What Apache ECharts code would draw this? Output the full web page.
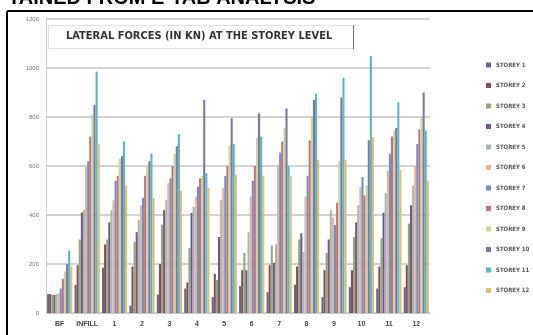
<!DOCTYPE html>
<html>
<head>
<meta charset="utf-8">
<script src="https://cdn.jsdelivr.net/npm/echarts@6/dist/echarts.min.js"></script>
<style>
  html, body { margin: 0; padding: 0; background: #fff; }
  #chart { width: 533px; height: 335px; }
</style>
</head>
<body>
<div id="chart"></div>
<script>
// Load cases along the x axis
const categories = ['BF', 'INFILL', '1', '2', '3', '4', '5', '6', '7', '8', '9', '10', '11', '12'];

// Lateral force (kN) per storey, one value per load case
const storey1  = [78, 115, 185, 30, 75, 100, 65, 110, 85, 115, 65, 105, 100, 105];
const storey2  = [77, 195, 280, 190, 200, 125, 160, 175, 195, 190, 175, 175, 190, 195];
const storey3  = [75, 300, 300, 290, 360, 265, 135, 245, 275, 300, 245, 310, 305, 365];
const storey4  = [74, 410, 370, 330, 420, 408, 310, 175, 205, 325, 300, 370, 410, 440];
const storey5  = [78, 420, 420, 380, 460, 433, 460, 330, 280, 250, 420, 440, 490, 520];
const storey6  = [80, 600, 460, 440, 530, 475, 510, 475, 605, 475, 390, 515, 580, 600];
const storey7  = [100, 620, 540, 470, 550, 515, 560, 540, 655, 560, 360, 555, 650, 690];
const storey8  = [140, 720, 560, 560, 600, 550, 600, 600, 700, 705, 450, 480, 720, 750];
const storey9  = [170, 810, 630, 600, 650, 560, 685, 715, 755, 800, 620, 520, 745, 800];
const storey10 = [200, 850, 640, 620, 680, 870, 795, 815, 835, 870, 880, 705, 755, 900];
const storey11 = [255, 985, 700, 650, 730, 570, 690, 720, 600, 895, 960, 1050, 860, 745];
const storey12 = [190, 690, 520, 470, 500, 510, 565, 560, 560, 625, 625, 718, 585, 540];

const storeyNames = ['STOREY 1', 'STOREY 2', 'STOREY 3', 'STOREY 4', 'STOREY 5', 'STOREY 6',
                     'STOREY 7', 'STOREY 8', 'STOREY 9', 'STOREY 10', 'STOREY 11', 'STOREY 12'];
const storeyValues = [storey1, storey2, storey3, storey4, storey5, storey6,
                      storey7, storey8, storey9, storey10, storey11, storey12];

const yTicks = [0, 200, 400, 600, 800, 1000, 1200];

const palette = ['#5d6a86', '#8a4a58', '#98a878', '#6c5a80', '#a8b8b8', '#e8b494',
                 '#6f8fc6', '#c4707c', '#c9d898', '#7b77aa', '#5fb6b8', '#dcbf78'];

const chart = echarts.init(document.getElementById('chart'), null, { renderer: 'canvas' });

chart.setOption({
  animation: false,
  color: palette,
  grid: { left: 46, right: 103, top: 19, bottom: 22, containLabel: false },
  legend: {
    orient: 'vertical',
    left: 486,
    top: 62,
    itemWidth: 5,
    itemHeight: 5,
    itemGap: 14.5,
    icon: 'rect',
    data: storeyNames,
    textStyle: { fontSize: 6, lineHeight: 6, color: '#555', fontWeight: 'bold', fontFamily: 'DejaVu Sans Condensed' },
    padding: 0
  },
  xAxis: {
    type: 'category',
    data: categories,
    axisLine: { lineStyle: { color: '#c8c8c8' } },
    axisTick: { show: false },
    axisLabel: { fontSize: 7, color: '#444', fontWeight: 'bold', margin: 8, interval: 0 }
  },
  yAxis: {
    type: 'value',
    min: yTicks[0],
    max: yTicks[yTicks.length - 1],
    interval: 200,
    axisLine: { show: true, lineStyle: { color: '#d0d0d0' } },
    axisTick: { show: false },
    axisLabel: { fontSize: 6, color: '#777', margin: 7, formatter: v => String(v) },
    splitLine: { lineStyle: { color: '#c4c4c4', width: 1.5 } }
  },
  series: storeyNames.map((name, i) => ({
    name: name,
    type: 'bar',
    data: storeyValues[i],
    barGap: '0%',
    barCategoryGap: '8%'
  })),
  graphic: [
    // page heading above the figure frame
    {
      type: 'text', left: 8, top: -12,
      style: { text: 'TAINED FROM E-TAB ANALYSIS', font: 'bold 20px "Liberation Sans", Arial, sans-serif', fill: '#000' }
    },
    // figure frame (left and top edges)
    { type: 'line', shape: { x1: 7, y1: 11, x2: 533, y2: 11 }, style: { stroke: '#000', lineWidth: 2 } },
    { type: 'line', shape: { x1: 7, y1: 11, x2: 7, y2: 335 }, style: { stroke: '#000', lineWidth: 2 } },
    // chart title box
    {
      type: 'rect', shape: { x: 48.5, y: 25.5, width: 305, height: 23 },
      style: { fill: '#fff', stroke: '#e2e2e2', lineWidth: 1 }, z: 10
    },
    { type: 'line', shape: { x1: 353.5, y1: 25, x2: 353.5, y2: 49 }, style: { stroke: '#777', lineWidth: 1 }, z: 11 },
    {
      type: 'text', left: 66, top: 31, z: 11,
      style: { text: 'LATERAL FORCES (IN KN) AT THE STOREY LEVEL', font: 'bold 11px "DejaVu Sans Condensed", sans-serif', fill: '#333' }
    }
  ]
});
</script>
</body>
</html>
